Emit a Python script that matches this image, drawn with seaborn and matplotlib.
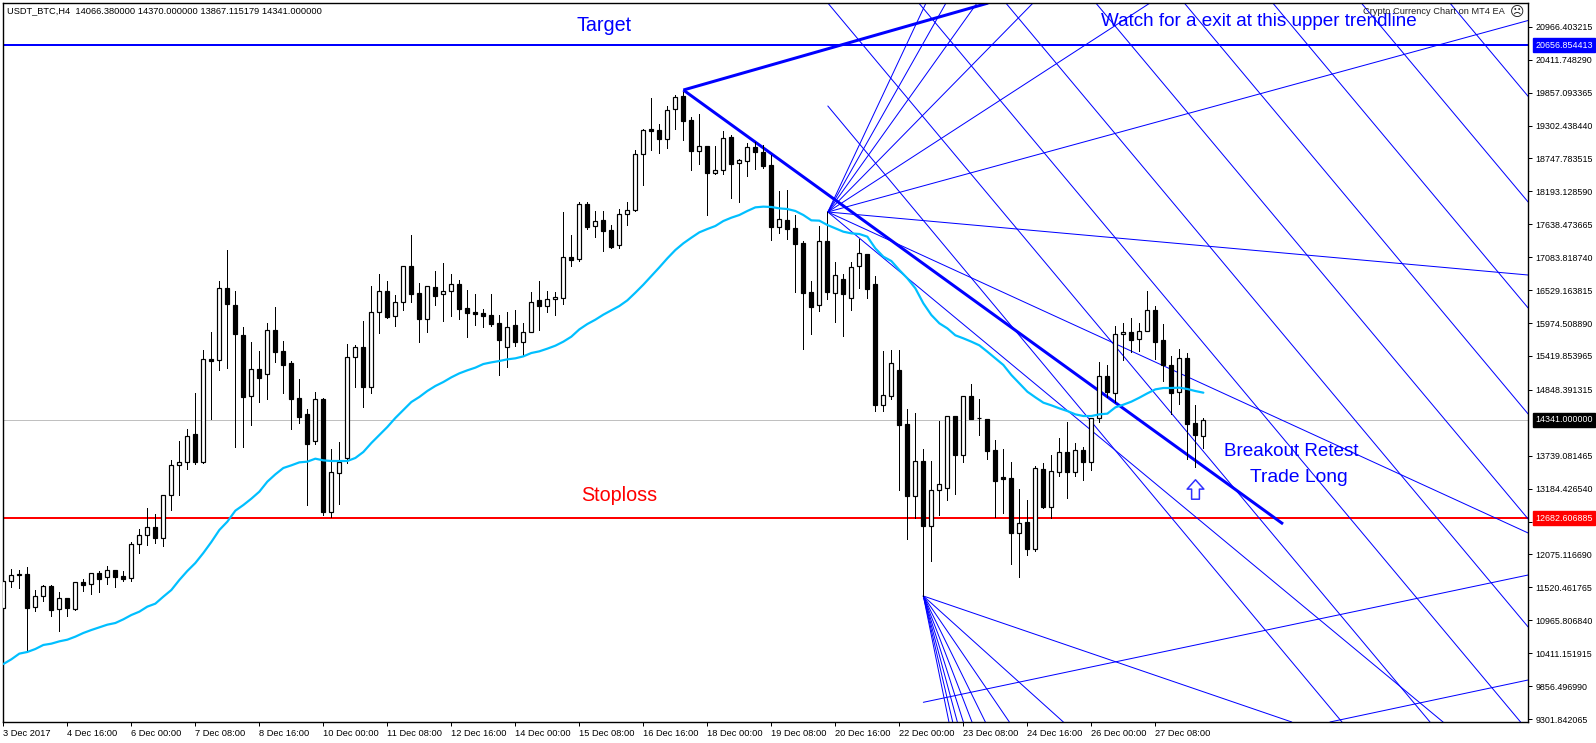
import matplotlib
matplotlib.use("Agg")
import matplotlib.pyplot as plt
from matplotlib.path import Path
import numpy as np
import pandas as pd
import seaborn as sns

opens = [11167,11622,11735,11746,11184,11370,11544,11151,11336,11162,
 11611,11572,11763,11690,11808,11712,11673,12246,12398,12532,
 12358,13071,13577,13627,14099,13639,15369,15346,16565,16279,
 15773,14751,15195,15122,15857,15504,15301,14712,14442,13993,
 14695,12796,13442,13700,15397,15571,14900,16155,16509,16088,
 16323,16930,16475,16048,16576,16458,16509,16627,16222,16155,
 16144,16110,15975,15565,15941,15661,15818,16363,16267,16374,
 16402,17087,17059,17980,17615,17705,17542,17295,17806,17885,
 18817,19239,19222,19081,19587,19800,19396,18879,18958,18508,
 18553,19109,18666,18711,18941,18857,18638,17599,17711,17576,
 17323,16498,16284,17357,16486,16717,16402,16941,17138,16632,
 14593,14751,15183,14273,13066,13650,12560,13156,13201,14408,
 13757,14745,14369,14352,13830,13375,13363,12442,12622,12173,
 13515,12880,13470,13802,13470,13835,13639,14369,15082,14801,
 15784,15824,15700,15835,16195,15689,15268,14807,15386,14290,
 14066]
highs = [11656,11825,11813,11858,11476,11561,11561,11437,11336,11606,
 11662,11757,11797,11881,11813,11797,12280,12499,12853,12751,
 13071,13667,13987,14189,14796,15520,15824,16683,17205,16515,
 15908,15655,15504,15975,16245,15672,15335,15032,14526,14813,
 14712,13852,13970,15616,15599,16009,16599,16795,16683,16447,
 16930,17458,16644,16593,16851,16986,16801,16700,16531,16464,
 16211,16464,16110,16161,16194,15975,16498,16683,16514,16498,
 17846,17458,18014,18014,17863,17863,17627,17891,18014,18890,
 19239,19761,19329,19626,19812,19873,19452,19497,18958,18963,
 19211,19143,18739,19003,19020,18975,18806,18200,18216,17795,
 17357,16683,17610,17846,17003,16801,17003,17391,17138,16767,
 15503,15520,15520,14526,14459,13852,13650,14324,14403,14408,
 14740,14947,14695,14352,14004,13852,13633,13178,12993,13560,
 13611,13751,14038,14307,13953,13886,14369,15318,15268,15925,
 15975,16060,15975,16515,16262,15959,15419,15537,15470,14594,
 14370]
lows = [11016,11533,11516,10465,11123,11297,11044,10791,11044,11145,
 11465,11415,11448,11583,11533,11634,11634,12105,12235,12263,
 12223,12824,13077,13515,13600,13622,14363,15183,15217,13891,
 13891,14257,14644,14695,15318,14796,14189,14290,12908,13936,
 12740,12706,12925,13620,14902,14560,14800,15812,16060,15930,
 16194,16335,15661,15829,16284,16015,16099,16043,15745,15941,
 15913,15930,15105,15239,15593,15436,15818,15863,16166,16110,
 16301,16941,17026,17565,17430,17188,17245,17245,17627,17868,
 18301,18890,18845,18930,19244,19059,18553,18655,17795,18486,
 18486,18082,18014,18452,18570,18593,17374,17492,17391,16498,
 15537,15790,16177,16380,15992,15756,16194,16565,16396,14492,
 14492,14694,13161,12336,12689,11380,11965,12740,12993,13094,
 13633,14358,14088,13684,12706,12774,11914,11701,12066,12139,
 12858,12689,13403,13026,13397,13330,13498,14307,14723,14644,
 15352,15487,15504,15835,15369,14998,14442,14610,13684,13554,
 13867]
closes = [11622,11735,11740,11179,11370,11538,11145,11336,11167,11606,
 11566,11757,11667,11808,11701,11667,12246,12398,12532,12358,
 13071,13577,13627,14066,13639,15363,15341,16560,16301,15796,
 14734,15195,15049,15852,15487,15268,14695,14391,13936,14689,
 12791,13459,13627,15397,15565,14897,16155,16509,16076,16323,
 16930,16470,16048,16593,16436,16509,16627,16217,16149,16133,
 16093,15958,15694,15902,15661,15818,16323,16267,16374,16408,
 17082,17037,17975,17598,17688,17531,17261,17806,17874,18817,
 19222,19216,19081,19559,19778,19385,18879,18952,18508,18548,
 19087,18660,18716,18935,18857,18621,17599,17722,17565,17306,
 16481,16245,17351,16498,16778,16464,16913,17149,16548,14593,
 14756,15296,14257,13060,13644,12555,13156,13257,14403,13757,
 14740,14358,14369,13824,13319,13352,12442,12600,12173,13526,
 12875,13476,13796,13470,13830,13639,14369,15077,14813,15784,
 15818,15689,15835,16189,15661,15268,14796,15380,14273,14094,
 14341]
moving_avg = [10229,10308,10404,10432,10482,10550,10572,10611,10639,10690,
 10752,10802,10847,10892,10920,10982,11055,11111,11196,11246,
 11364,11476,11645,11797,11931,12100,12285,12487,12628,12813,
 12908,13015,13133,13302,13425,13532,13577,13627,13639,13689,
 13661,13650,13650,13650,13701,13802,13953,14088,14223,14375,
 14510,14644,14729,14830,14914,14981,15060,15127,15178,15223,
 15284,15312,15335,15363,15380,15413,15470,15498,15543,15593,
 15661,15745,15868,15958,16031,16116,16189,16262,16357,16486,
 16621,16767,16913,17065,17205,17318,17413,17503,17559,17610,
 17694,17750,17795,17863,17924,17936,17930,17907,17896,17863,
 17795,17705,17700,17627,17570,17514,17486,17475,17430,17233,
 17093,17020,16868,16728,16560,16307,16110,15970,15885,15768,
 15717,15661,15599,15492,15380,15268,15099,14959,14818,14723,
 14633,14588,14537,14492,14436,14408,14408,14436,14448,14554,
 14599,14650,14717,14790,14857,14880,14880,14886,14863,14829,
 14801]

date_labels = ["3 Dec 2017","4 Dec 16:00","6 Dec 00:00","7 Dec 08:00","8 Dec 16:00",
 "10 Dec 00:00","11 Dec 08:00","12 Dec 16:00","14 Dec 00:00","15 Dec 08:00",
 "16 Dec 16:00","18 Dec 00:00","19 Dec 08:00","20 Dec 16:00","22 Dec 00:00",
 "23 Dec 08:00","24 Dec 16:00","26 Dec 00:00","27 Dec 08:00"]
date_bars = list(range(0, 152, 8))
price_ticks = [20966.403215,20411.748290,19857.093365,19302.438440,18747.783515,
 18193.128590,17638.473665,17083.818740,16529.163815,15974.508890,15419.853965,
 14848.391315,13739.081465,13184.426540,12629.771615,12075.116690,11520.461765,
 10965.806840,10411.151915,9856.496990,9301.842065]

target_price = 20656.854413
stop_price = 12682.606885
last_price = 14341.0

# Trend lines: (start bar, start price, end bar, end price)
trend_lines = [(85,19901,123.1,21367),(85,19901,159.96,12589)]
upper_apex = (103.06,17846)
upper_fan_ends = [(115.33,21367),(117.83,21367),(121.71,21367),(128.71,21367),(143.33,21367),
                  (190.6,21073),(190.6,16784),(190.6,12437),(179.96,9252)]
lower_apex = (115,11375)
lower_fan_ends = [(161.05,9252),(132.5,9252),(125.75,9252),(122.75,9252),(121.08,9252),
                  (120,9252),(119.25,9252),(118.67,9252),(118.2,9252)]
falling_lines = [(103.06,19632,167.33,9252),(103.06,21367,178.33,9252),(114.43,21367,189.65,9252),
                 (125.31,21367,190.6,10853),(136.56,21367,190.6,12673),(147.62,21367,190.6,14442),
                 (158.68,21367,190.6,16228),(169.75,21367,190.6,18014),(180.82,21367,190.6,19794)]
rising_lines = [(115,9584,190.6,11729),(165.83,9252,190.6,9960)]
arrow_point = (149, 13178)

W, H = 1596, 743
sns.set_theme(style="white")
plt.rcParams["font.family"] = ["Liberation Sans", "DejaVu Sans"]
fig = plt.figure(figsize=(W/100, H/100), dpi=100, facecolor="white")
ax = fig.add_axes([2.5/W, (H-722)/H, 1525.5/W, 719.5/H])
PX = 0.72
BLUE = "#0000FF"

df = pd.DataFrame(dict(open=opens, high=highs, low=lows, close=closes, ma=moving_avg))
df["bar"] = df.index
up = df["close"] >= df["open"]

ax.axhline(last_price, color="#C0C0C0", lw=PX, zorder=1)
ax.axhline(target_price, color=BLUE, lw=2*PX, zorder=1.5)
ax.axhline(stop_price, color="#FF0000", lw=2*PX, zorder=1.5)

for x0, y0, x1, y1 in falling_lines + rising_lines:
    ax.plot([x0, x1], [y0, y1], color=BLUE, lw=PX, zorder=2)
for apex, ends in ((upper_apex, upper_fan_ends), (lower_apex, lower_fan_ends)):
    for x1, y1 in ends:
        ax.plot([apex[0], x1], [apex[1], y1], color=BLUE, lw=PX, zorder=2)
for x0, y0, x1, y1 in trend_lines:
    ax.plot([x0, x1], [y0, y1], color=BLUE, lw=3*PX, zorder=2.2, solid_capstyle="butt")

ax.vlines(df["bar"], df["low"], df["high"], color="black", lw=PX, zorder=3, antialiased=False)
ax.bar(df["bar"], (df["close"]-df["open"]).abs(), bottom=df[["open","close"]].min(axis=1),
       width=0.5, color=np.where(up, "white", "black"), edgecolor="black", linewidth=1.2*PX, zorder=3.2)

sns.lineplot(data=df, x="bar", y="ma", ax=ax, color="#00BFFF", lw=2.2*PX, zorder=4,
             estimator=None, errorbar=None, legend=False)

# Hollow up arrow marking the retest
arrow_shape = Path([(-0.2,-0.5),(0.2,-0.5),(0.2,0.02),(0.43,0.02),(0,0.5),(-0.43,0.02),(-0.2,0.02),(-0.2,-0.5)], closed=True)
ax.plot([arrow_point[0]], [arrow_point[1]], marker=arrow_shape, markersize=14, markerfacecolor="white",
        markeredgecolor="#3030FF", markeredgewidth=1.1, linestyle="none", zorder=5)

ax.set_xlim(-0.104, 190.58)
ax.set_ylim(9252, 21376)
ax.yaxis.tick_right()
ax.set_yticks(price_ticks)
ax.set_yticklabels([f"{v:.6f}" for v in price_ticks])
ax.set_xticks(date_bars)
ax.set_xticklabels(date_labels, ha="left")
ax.set_xlabel(""); ax.set_ylabel("")
ax.tick_params(axis="y", which="major", length=3, width=PX, pad=2.2, labelsize=6.4, colors="black", right=True)
ax.tick_params(axis="x", which="major", length=3, width=PX, pad=2.2, labelsize=6.7, colors="black", bottom=True)
for s in ax.spines.values():
    s.set_visible(True); s.set_color("black"); s.set_linewidth(1.0)
ax.grid(False)

rt = ax.get_yaxis_transform()
for price, label, bg in ((target_price, "20656.854413", BLUE),
                         (stop_price, "12682.606885", "#FF0000"),
                         (last_price, "14341.000000", "black")):
    ax.text(1.0046, price, label, transform=rt, color="white", fontsize=6.4, ha="left", va="center",
            clip_on=False, zorder=6, bbox=dict(facecolor=bg, edgecolor=bg, pad=1.8))

fig.text(7/W, 1-10.7/H, "USDT_BTC,H4  14066.380000 14370.000000 13867.115179 14341.000000",
         fontsize=6.65, ha="left", va="center", color="black", zorder=6)
fig.text(1363/W, 1-11.7/H, "Crypto Currency Chart on MT4 EA", fontsize=6.65, ha="left", va="center", color="#202020", zorder=6)
fig.text(1517/W, 1-11.7/H, "\u2639", fontsize=10, ha="center", va="center", color="#202020",
         family="DejaVu Sans", zorder=6)

fig.text(604/W, 1-25.5/H, "Target", color=BLUE, fontsize=14.2, ha="center", va="center")
fig.text(1258.7/W, 1-21.7/H, "Watch for a exit at this upper trendline", color=BLUE, fontsize=13.6, ha="center", va="center")
fig.text(619/W, 1-495.7/H, "Stoploss", color="#FF0000", fontsize=14.2, ha="center", va="center")
fig.text(1291.5/W, 1-451/H, "Breakout Retest", color=BLUE, fontsize=13.6, ha="center", va="center")
fig.text(1299/W, 1-478/H, "Trade Long", color=BLUE, fontsize=13.9, ha="center", va="center")

fig.savefig("out.png", dpi=100, facecolor="white")
